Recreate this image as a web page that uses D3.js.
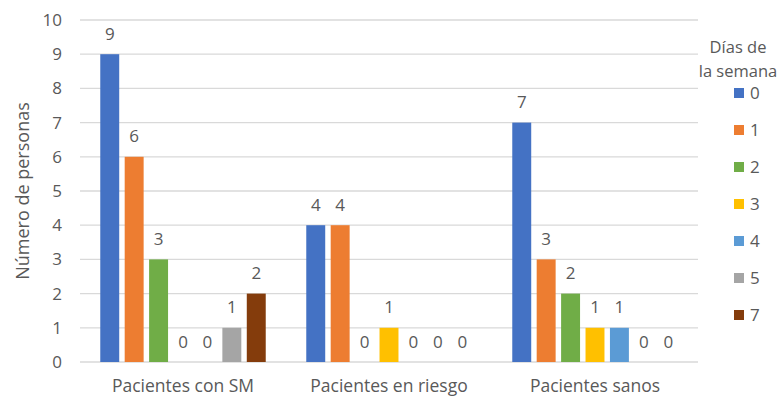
<!DOCTYPE html>
<html>
<head>
<meta charset="utf-8">
<script src="https://cdn.jsdelivr.net/npm/d3@7"></script>
<style>
  html, body { margin: 0; padding: 0; background: #fff; }
  svg text { font-family: "Open Sans", "Noto Sans", sans-serif; fill: #595959; }
</style>
</head>
<body>
<svg id="chart" width="780" height="398"></svg>
<script>
// Number of people per patient group, split by days of the week
const categories = ["Pacientes con SM", "Pacientes en riesgo", "Pacientes sanos"];
const dayKeys = ["0", "1", "2", "3", "4", "5", "7"];
const day0 = [9, 4, 7];
const day1 = [6, 4, 3];
const day2 = [3, 0, 2];
const day3 = [0, 1, 1];
const day4 = [0, 0, 1];
const day5 = [1, 0, 0];
const day7 = [2, 0, 0];
const seriesValues = [day0, day1, day2, day3, day4, day5, day7];
const colors = ["#4472C4", "#ED7D31", "#70AD47", "#FFC000", "#5B9BD5", "#A5A5A5", "#843C0C"];
const yTicks = [0, 1, 2, 3, 4, 5, 6, 7, 8, 9, 10];
const yTitle = "Número de personas";
const legendTitle = ["Días de", "la semana"];

const svg = d3.select("#chart");
const plot = { left: 80, right: 698, top: 20, bottom: 362 };

const x0 = d3.scaleBand().domain(categories).range([plot.left, plot.right]).padding(0);
const x1 = d3.scaleBand().domain(dayKeys).range([0, x0.bandwidth()])
  .paddingInner(0.224).paddingOuter(0.83);
const y = d3.scaleLinear().domain([0, 10]).range([plot.bottom, plot.top]);

// gridlines
svg.append("g").selectAll("line").data(yTicks).join("line")
  .attr("x1", plot.left).attr("x2", plot.right)
  .attr("y1", d => y(d)).attr("y2", d => y(d))
  .attr("stroke", "#d9d9d9").attr("stroke-width", 1.3);

// y tick labels
svg.append("g").selectAll("text").data(yTicks).join("text")
  .attr("x", 62).attr("y", d => y(d)).attr("dy", "0.35em")
  .attr("text-anchor", "end").attr("font-size", 17).text(d => d);

// y axis title
svg.append("text")
  .attr("transform", `translate(23,${(plot.top + plot.bottom) / 2}) rotate(-90)`)
  .attr("text-anchor", "middle").attr("dy", "0.35em").attr("font-size", 18)
  .text(yTitle);

// bars
const rows = [];
categories.forEach((c, i) => {
  dayKeys.forEach((k, j) => rows.push({ cat: c, key: k, value: seriesValues[j][i], color: colors[j] }));
});

svg.append("g").selectAll("rect").data(rows).join("rect")
  .attr("x", d => x0(d.cat) + x1(d.key))
  .attr("width", x1.bandwidth())
  .attr("y", d => y(d.value))
  .attr("height", d => y(0) - y(d.value))
  .attr("fill", d => d.color);

// value labels
svg.append("g").selectAll("text").data(rows).join("text")
  .attr("x", d => x0(d.cat) + x1(d.key) + x1.bandwidth() / 2)
  .attr("y", d => y(d.value) - 14.5)
  .attr("text-anchor", "middle").attr("font-size", 17)
  .text(d => d.value);

// category labels
svg.append("g").selectAll("text").data(categories).join("text")
  .attr("x", d => x0(d) + x0.bandwidth() / 2)
  .attr("y", 386).attr("dy", "0.35em")
  .attr("text-anchor", "middle").attr("font-size", 17.5)
  .text(d => d);

// legend
const legend = svg.append("g");
legend.selectAll("text.title").data(legendTitle).join("text")
  .attr("class", "title")
  .attr("x", 738).attr("y", (d, i) => 47 + i * 24).attr("dy", "0.35em")
  .attr("text-anchor", "middle").attr("font-size", 16.5)
  .text(d => d);

const items = legend.selectAll("g.item").data(dayKeys).join("g")
  .attr("class", "item")
  .attr("transform", (d, i) => `translate(734,${93 + i * 37})`);
items.append("rect").attr("x", 0).attr("y", -5).attr("width", 10).attr("height", 10)
  .attr("fill", (d, i) => colors[i]);
items.append("text").attr("x", 16).attr("y", 0).attr("dy", "0.35em")
  .attr("font-size", 17).text(d => d);
</script>
</body>
</html>
